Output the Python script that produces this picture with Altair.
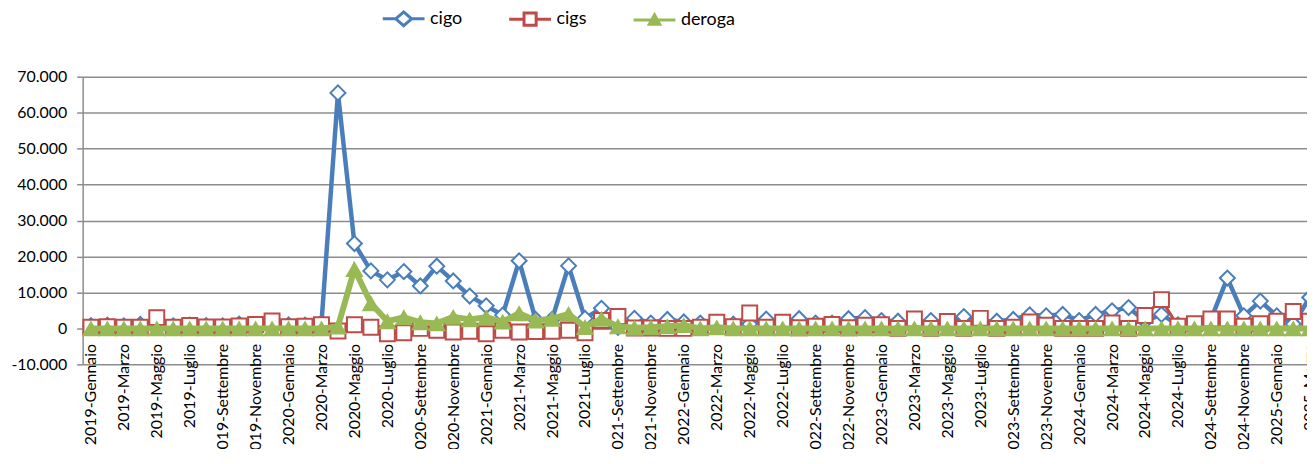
import altair as alt
import pandas as pd

nomi_mesi = ["Gennaio", "Febbraio", "Marzo", "Aprile", "Maggio", "Giugno",
             "Luglio", "Agosto", "Settembre", "Ottobre", "Novembre", "Dicembre"]
mesi = [f"{a}-{m}" for a in range(2019, 2025) for m in nomi_mesi] + \
       ["2025-Gennaio", "2025-Febbraio", "2025-Marzo"]

cigo = [800, 900, 700, 1100, 800, 700, 900, 800, 700, 1200, 900, 800,
        1000, 900, 1500, 65500, 23600, 16000, 13500, 15800, 11800, 17300, 13200, 9000,
        6300, 3700, 18800, 2500, 2500, 17400, 2800, 5600, 300, 2800, 1500, 2500,
        1800, 1500, 1500, 1200, 1200, 2600, 1500, 2700, 1500, 1500, 2700, 3000,
        2200, 2000, 1500, 2200, 1500, 3300, 2000, 2000, 2500, 3800, 3500, 3900,
        2200, 3900, 4900, 5800, 2000, 3900, 1000, 500, 2500, 14000, 3500, 7600,
        3500, 1200, 8600]

cigs = [300, 500, 300, 300, 3000, 300, 800, 400, 400, 700, 1100, 2100,
        500, 600, 1000, -700, 1000, 300, -1500, -1200, 0, -500, -1000, -800,
        -1500, -500, -1000, -900, -800, -500, -1200, 2200, 3300, 100, 100, 0,
        0, 300, 1700, 500, 4300, 300, 1700, 200, 600, 1100, 200, 900,
        1000, 0, 2600, 0, 1900, 0, 2800, 0, 300, 1800, 900, 0,
        0, 0, 1500, 0, 3600, 8000, 600, 1300, 2600, 2600, 600, 1300,
        2000, 4700, 2000]

deroga = [0, 0, 0, 0, 0, 0, 0, 0, 0, 0, 0, 0,
          0, 0, 0, 500, 16500, 7000, 2000, 3100, 1700, 1400, 3200, 2500,
          3100, 1900, 4200, 2200, 2700, 4000, 400, 2700, 600, 200, 300, 600,
          900, 0, 300, 0, 0, 0, 0, 0, 0, 0, 0, 0,
          0, 0, 0, 0, 0, 0, 0, 0, 0, 0, 0, 0,
          0, 0, 0, 0, 0, 0, 0, 0, 0, 0, 0, 0,
          0, 0, 0]

serie = ["cigo", "cigs", "deroga"]
colori = ["#4A7EBB", "#BE4B48", "#98B954"]
y_ticks = [-10000, 0, 10000, 20000, 30000, 40000, 50000, 60000, 70000]

df = pd.DataFrame({"mese": mesi, "cigo": cigo, "cigs": cigs, "deroga": deroga})

FONT = "Lato"
GRID = "#8c8c8c"

x_enc = alt.X(
    "mese:N", sort=mesi,
    scale=alt.Scale(domain=mesi, range=[0, 1241], padding=0.5),
    axis=alt.Axis(values=mesi[::2], title=None, labelAngle=270, offset=-36,
                  ticks=False, domainColor=GRID, domainWidth=1.5, labelPadding=15,
                  labelFont=FONT, labelFontSize=16, labelColor="#000000",
                  grid=False, labelOverlap=False),
)

y_scale = alt.Scale(domain=[-10000, 70000], nice=False, zero=False)
y_axis = alt.Axis(
    values=y_ticks, title=None,
    labelExpr="replace(replace(format(datum.value, ','), ',', '.'), '\u2212', '-')",
    grid=True, gridColor=GRID, gridWidth=1.5,
    domainColor=GRID, domainWidth=1.5, tickColor=GRID, tickWidth=1.5, tickSize=6,
    labelPadding=10, labelFont=FONT, labelFontSize=16, labelColor="#000000",
)


def y_enc(campo):
    return alt.Y(f"{campo}:Q", scale=y_scale, axis=y_axis)


base = alt.Chart(df)

cigo_line = base.mark_line(color=colori[0], strokeWidth=4.5).encode(x=x_enc, y=y_enc("cigo"))
cigo_pts = base.mark_point(shape="diamond", size=225, filled=True, fill="white",
                           stroke=colori[0], strokeWidth=2, opacity=1).encode(x=x_enc, y=y_enc("cigo"))
cigs_line = base.mark_line(color=colori[1], strokeWidth=3).encode(x=x_enc, y=y_enc("cigs"))
cigs_pts = base.mark_point(shape="square", size=225, filled=True, fill="white",
                           stroke=colori[1], strokeWidth=2, opacity=1).encode(x=x_enc, y=y_enc("cigs"))
der_line = base.mark_line(color=colori[2], strokeWidth=6).encode(x=x_enc, y=y_enc("deroga"))
der_pts = base.mark_point(shape="triangle-up", size=340, filled=True, fill=colori[2],
                          strokeWidth=0, opacity=1).encode(x=x_enc, y=y_enc("deroga"))

simboli = [
    "M-1,0H-0.38M0.38,0H1M-0.38,0L0,-0.33L0.38,0L0,0.33Z",
    "M-1,0H-0.29M0.29,0H1M-0.29,-0.29H0.29V0.29H-0.29Z",
    "M-1,0H1M-0.25,0.2L0,-0.25L0.25,0.2Z",
]

leg_df = pd.DataFrame({"serie": serie})
legenda = alt.Chart(leg_df).transform_filter("datum.serie == 'nessuna'").mark_point(
    filled=True, opacity=1, strokeWidth=3
).encode(
    shape=alt.Shape("serie:N", scale=alt.Scale(domain=serie, range=simboli), legend=alt.Legend(title=None)),
    fill=alt.Fill("serie:N", scale=alt.Scale(domain=serie, range=["white", "white", colori[2]]), legend=alt.Legend(title=None)),
    stroke=alt.Stroke("serie:N", scale=alt.Scale(domain=serie, range=colori), legend=alt.Legend(title=None)),
)

chart = alt.layer(
    cigo_line, cigo_pts, cigs_line, cigs_pts, der_line, der_pts, legenda
).properties(
    width=1230, height=289,
    autosize=alt.AutoSizeParams(type="none"),
    padding={"left": 75, "top": 68, "right": 0, "bottom": 84},
    background="white",
).configure_view(
    stroke=None
).configure_legend(
    orient="none", legendX=300, legendY=-81, direction="horizontal",
    symbolSize=1764, symbolStrokeWidth=3, labelFont=FONT, labelFontSize=18,
    labelColor="#000000", columnPadding=40, labelOffset=4, symbolOpacity=1,
)

chart.save("out.html", embed_options={"renderer": "svg", "actions": False})
